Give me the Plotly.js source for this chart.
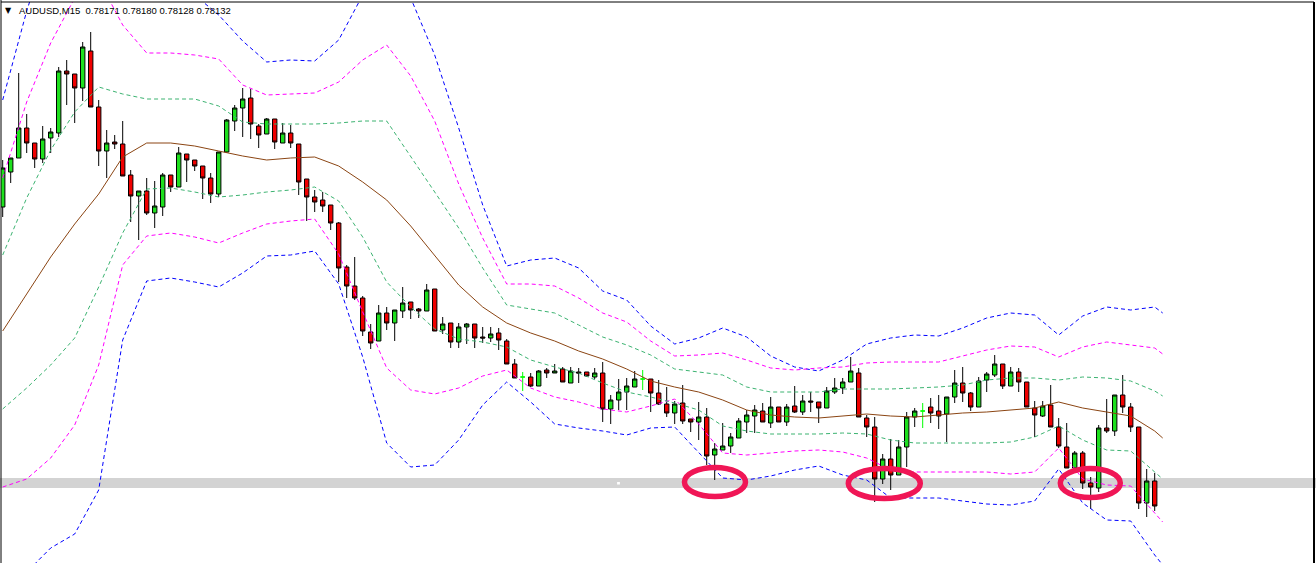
<!DOCTYPE html>
<html>
<head>
<meta charset="utf-8">
<script src="https://cdn.plot.ly/plotly-3.0.1.min.js"></script>
<style>html,body{margin:0;padding:0;background:#fff;}#chart{width:1316px;height:563px;}</style>
</head>
<body>
<div id="chart"></div>
<script>
// AUDUSD M15 candles (chart units, higher = higher price)
const open = [393,428,442,472,457,441,462,467,529,526,512,549,493,449,458,456,425,404,409,387,393,425,413,446,440,434,422,406,448,479,492,502,474,466,481,457,467,456,421,403,400,395,377,333,314,302,268,259,287,277,289,298,291,289,311,270,277,258,273,276,263,262,267,259,236,223,223,214,230,227,231,217,228,228,223,227,191,200,208,213,221,221,207,196,187,197,181,178,183,145,150,154,162,178,184,189,177,193,178,194,188,199,198,192,208,212,218,227,182,173,121,141,125,153,183,189,193,189,186,203,217,207,193,220,225,236,214,228,218,192,184,195,173,153,132,147,117,112,172,169,205,193,173,97,119];
const high = [440,442,527,486,457,474,472,533,540,526,558,568,500,470,465,479,430,409,422,419,427,425,453,446,440,434,427,448,481,495,512,511,476,482,481,477,475,456,421,410,408,395,378,335,343,304,276,295,293,290,313,298,292,316,311,283,277,277,277,276,273,273,272,261,241,228,227,230,232,236,233,233,232,228,232,238,205,221,222,229,230,221,220,213,199,215,181,198,192,157,177,167,182,190,195,197,203,193,196,214,205,208,198,213,222,222,243,232,185,183,146,161,160,188,192,197,202,205,203,230,233,208,223,228,245,236,233,232,218,199,199,215,182,177,149,149,123,175,201,205,225,197,173,131,127];
const low = [383,417,442,447,432,437,447,463,495,477,499,493,434,422,451,424,378,360,385,372,384,408,413,418,429,401,397,403,447,469,463,461,452,466,451,457,452,405,379,388,388,370,318,302,300,264,251,259,270,259,282,281,282,289,269,266,252,252,256,252,257,258,250,236,222,209,213,214,222,227,218,217,217,223,221,178,176,190,190,213,210,188,195,183,176,176,168,160,135,120,150,147,162,167,167,178,172,178,174,187,185,188,177,192,206,206,218,183,163,98,116,110,125,133,173,172,177,171,158,197,198,189,193,208,223,211,214,208,193,163,183,173,152,132,132,111,91,108,167,164,187,168,91,83,89];
const close = [432,442,472,457,441,461,468,529,526,512,553,493,449,457,456,424,404,409,387,394,425,413,447,440,434,422,406,448,480,492,501,476,465,481,458,467,457,418,403,398,394,377,332,314,302,269,257,287,277,290,297,290,289,310,269,276,258,273,276,262,262,266,260,236,222,223,214,229,227,229,218,229,227,224,227,191,200,208,214,221,221,207,196,187,196,179,178,183,144,151,154,163,179,185,190,178,193,178,193,188,199,198,192,209,212,218,229,183,173,121,141,125,153,183,189,189,187,184,203,217,207,193,219,226,236,214,228,218,193,185,194,173,154,132,147,117,113,172,169,205,193,173,97,119,94];

// indicator lines, sampled at these bar numbers
const bandIdx = [1,4,7,10,13,16,19,22,25,28,31,34,37,40,43,46,49,52,55,58,61,64,67,70,73,76,79,82,85,88,91,94,97,100,103,106,109,112,115,118,121,124,127,130,133,136,139,142,145,146];
const maMid = [269,306,343,376,406,443,457,457,454,449,444,440,442,443,434,418,400,374,345,315,293,277,267,259,249,241,231,219,213,208,200,190,185,183,182,184,186,184,183,185,187,188,190,192,198,192,188,184,169,162];
const band1Up = [345,402,450,488,513,506,501,501,501,494,478,476,476,476,477,479,479,444,408,372,332,295,291,287,275,263,255,245,231,228,225,213,208,208,208,211,211,211,212,213,215,220,222,222,220,223,222,219,209,204];
const band1Dn = [191,212,235,262,313,367,411,412,408,403,405,408,410,413,399,363,318,293,271,261,258,253,240,233,227,217,208,203,197,190,174,169,166,166,166,167,166,160,157,157,157,157,158,163,174,160,150,149,128,121];
const band2Up = [422,498,557,602,620,575,547,547,545,541,515,505,506,507,518,540,555,524,479,416,362,316,316,314,302,287,278,259,244,245,247,240,232,230,232,233,237,238,238,238,244,250,254,253,243,253,258,255,252,246];
const band2Dn = [113,121,142,175,235,335,364,367,363,357,367,376,379,381,346,288,232,210,206,212,224,230,212,203,198,191,188,194,201,176,147,145,147,149,150,148,142,130,128,128,128,128,126,128,152,121,115,114,87,78];
const band3Up = [500,589,664,712,727,640,605,610,605,585,559,538,540,539,560,605,635,602,545,472,395,334,340,342,332,309,300,274,256,262,272,263,244,233,229,240,256,262,265,264,272,282,287,285,265,284,293,290,293,287];
const band3Dn = [34,28,52,66,110,260,319,322,318,313,327,344,345,349,316,243,157,133,135,160,195,218,198,176,172,169,165,172,173,148,122,120,124,130,134,125,120,102,102,102,99,96,95,99,131,97,80,79,45,35];

const headerText = 'AUDUSD,M15  0.78171 0.78180 0.78128 0.78132';

const bars = open.map((_, i) => i + 1);
const isDoji = open.map((o, i) => o === close[i]);
function pick(arr, want) { return arr.filter((_, i) => isDoji[i] === want); }

const traces = [];
function bandLine(y, color, dash) {
  traces.push({type: 'scatter', mode: 'lines', x: bandIdx, y: y, hoverinfo: 'skip',
    line: {color: color, width: 1, dash: dash}});
}
bandLine(band3Up, '#0000ff', '4px,3px');
bandLine(band3Dn, '#0000ff', '4px,3px');
bandLine(band2Up, '#ff00ff', '4px,3px');
bandLine(band2Dn, '#ff00ff', '4px,3px');
bandLine(band1Up, '#3cb371', '4px,3px');
bandLine(band1Dn, '#3cb371', '4px,3px');
bandLine(maMid, '#8b4513', 'solid');

traces.push({
  type: 'candlestick', x: pick(bars, false), open: pick(open, false), high: pick(high, false),
  low: pick(low, false), close: pick(close, false), hoverinfo: 'skip', whiskerwidth: 0,
  increasing: {line: {color: '#000000', width: 1}, fillcolor: '#1ee01e'},
  decreasing: {line: {color: '#000000', width: 1}, fillcolor: '#f00000'}
});
traces.push({
  type: 'candlestick', x: pick(bars, true), open: pick(open, true), high: pick(high, true),
  low: pick(low, true), close: pick(close, true), hoverinfo: 'skip', whiskerwidth: 0,
  increasing: {line: {color: '#00ff00', width: 1}, fillcolor: '#00ff00'},
  decreasing: {line: {color: '#00ff00', width: 1}, fillcolor: '#00ff00'}
});

const hl = '#f01656';
const layout = {
  width: 1316, height: 563,
  margin: {l: 1, r: 2, t: 2, b: 0, pad: 0},
  paper_bgcolor: '#ffffff', plot_bgcolor: '#ffffff',
  showlegend: false,
  boxmode: 'overlay', boxgap: 0.45, boxgroupgap: 0,
  xaxis: {range: [0.7875, 164.9125], showgrid: false, zeroline: false, showticklabels: false,
          ticks: '', showline: false, fixedrange: true, rangeslider: {visible: false}},
  yaxis: {range: [37, 598], showgrid: false, zeroline: false, showticklabels: false,
          ticks: '', showline: false, fixedrange: true},
  shapes: [
    {type: 'rect', xref: 'paper', yref: 'y', x0: -0.001, x1: 1.002, y0: 112, y1: 122,
     fillcolor: '#d3d3d3', line: {width: 0}, layer: 'below'},
    {type: 'rect', xref: 'x', yref: 'y', x0: 77.8, x1: 78.15, y0: 115.5, y1: 118,
     fillcolor: '#ffffff', line: {width: 0}},
    {type: 'circle', xref: 'x', yref: 'y', x0: 86.22, x1: 93.85, y0: 103.5, y1: 132.5,
     line: {color: hl, width: 5.5}},
    {type: 'circle', xref: 'x', yref: 'y', x0: 106.7, x1: 115.7, y0: 101.5, y1: 131.5,
     line: {color: hl, width: 5.5}},
    {type: 'circle', xref: 'x', yref: 'y', x0: 133.2, x1: 140.7, y0: 102.5, y1: 131.5,
     line: {color: hl, width: 5.5}},
    {type: 'line', xref: 'paper', yref: 'paper', x0: 0, x1: 0, y0: 0, y1: 1.004, line: {color: '#000', width: 1}},
    {type: 'line', xref: 'paper', yref: 'paper', x0: 0, x1: 1, y0: 1, y1: 1, line: {color: '#000', width: 1}},
    {type: 'line', xref: 'paper', yref: 'paper', x0: 1, x1: 1, y0: 0, y1: 1, line: {color: '#000', width: 2}}
  ],
  annotations: [
    {text: headerText, xref: 'paper', yref: 'paper', x: 0.0122, y: 0.985, xanchor: 'left', yanchor: 'middle',
     showarrow: false, font: {family: 'Liberation Sans, Arial, sans-serif', size: 9.5, color: '#000'}},
    {text: '▼', xref: 'paper', yref: 'paper', x: 0.0055, y: 0.985, xanchor: 'center', yanchor: 'middle',
     showarrow: false, font: {family: 'DejaVu Sans, sans-serif', size: 8, color: '#000'}}
  ]
};

Plotly.newPlot('chart', traces, layout, {displayModeBar: false, staticPlot: true});
</script>
</body>
</html>
